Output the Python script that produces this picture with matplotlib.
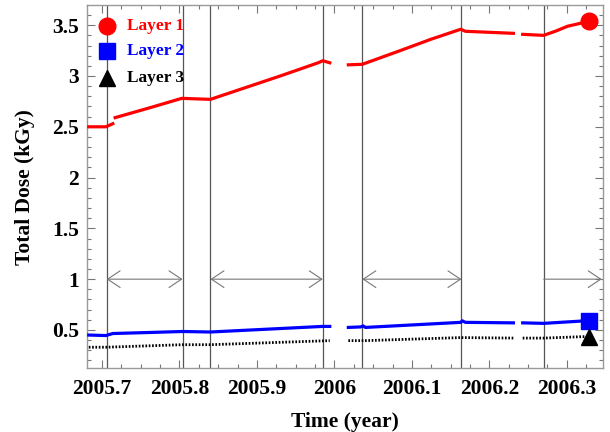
import numpy as np
import matplotlib
matplotlib.use('Agg')
import matplotlib.pyplot as plt
from matplotlib.ticker import MultipleLocator

plt.rcParams['font.family'] = ['Liberation Serif', 'DejaVu Serif']
plt.rcParams['font.weight'] = 'bold'

nan = np.nan

# Layer 1 (red)
t1 = [2005.683, 2005.705, 2005.714, nan, 2005.717, 2005.763, 2005.803, 2005.821, 2005.840,
      2005.930, 2005.979, 2005.985, 2005.994, nan, 2006.018, 2006.036, 2006.085, 2006.124,
      2006.163, 2006.169, 2006.231, nan, 2006.243, 2006.270, 2006.285, 2006.301, 2006.324]
d1 = [2.50, 2.50, 2.53, nan, 2.59, 2.69, 2.78, 2.775, 2.77,
      3.00, 3.13, 3.15, 3.13, nan, 3.11, 3.115, 3.25, 3.36,
      3.46, 3.44, 3.42, nan, 3.41, 3.40, 3.44, 3.49, 3.53]

# Layer 2 (blue)
t2 = [2005.683, 2005.705, 2005.714, 2005.760, 2005.804, 2005.840, 2005.985, 2005.994, nan,
      2006.018, 2006.034, 2006.037, 2006.040, 2006.163, 2006.165, 2006.169, 2006.231, nan,
      2006.243, 2006.270, 2006.324]
d2 = [0.45, 0.445, 0.465, 0.475, 0.485, 0.48, 0.535, 0.535, nan,
      0.525, 0.53, 0.54, 0.525, 0.575, 0.59, 0.575, 0.57, nan,
      0.57, 0.565, 0.59]

# Layer 3 (black)
t3 = [2005.683, 2005.705, 2005.804, 2005.840, 2005.994, nan, 2006.018, 2006.040,
      2006.163, 2006.231, nan, 2006.243, 2006.270, 2006.324]
d3 = [0.33, 0.33, 0.355, 0.355, 0.395, nan, 0.395, 0.395,
      0.425, 0.42, nan, 0.42, 0.42, 0.435]

# end markers
t_end = 2006.328
end_vals = [3.54, 0.59, 0.43]

# period boundaries and arrows
vlines = [2005.706, 2005.804, 2005.840, 2005.985, 2006.036, 2006.164, 2006.270]
arrows = [(2005.706, 2005.804, True), (2005.840, 2005.985, True),
          (2006.036, 2006.164, True), (2006.270, 2006.345, False)]

fig = plt.figure(figsize=(6.1, 4.32), dpi=100)
ax = fig.add_axes([0.143, 0.148, 0.846, 0.840])

for v in vlines:
    ax.axvline(v, color='#555555', lw=0.9, zorder=1)

for a, b, both in arrows:
    style = '<->' if both else '->'
    ax.annotate('', xy=(b, 1.0), xytext=(a, 1.0),
                arrowprops=dict(arrowstyle=style + ',head_length=0.45,head_width=0.3',
                                color='#777777', lw=0.8, shrinkA=0, shrinkB=0,
                                mutation_scale=20))

ax.plot(t1, d1, color='#ff0000', lw=2.3, zorder=3)
ax.plot(t2, d2, color='#0000ff', lw=2.3, zorder=3)
ax.plot(t3, d3, color='black', lw=2.0, ls=(0, (0.6, 0.6)), zorder=3)

ax.plot(t_end, end_vals[0], 'o', color='#ff0000', ms=12, zorder=4)
ax.plot(t_end, end_vals[1], 's', color='#0000ff', ms=11, zorder=4)
ax.plot(t_end, end_vals[2], '^', color='black', ms=11, zorder=4)

# legend drawn as markers + text
leg_x = 2005.707
for yv, mk, col, lab in [(3.49, 'o', '#ff0000', 'Layer 1'),
                          (3.245, 's', '#0000ff', 'Layer 2'),
                          (2.98, '^', 'black', 'Layer 3')]:
    ax.plot(leg_x, yv, mk, color=col, ms=12 if mk == 'o' else 11, zorder=4)
    ax.text(leg_x + 0.025, yv, lab, color=col, fontsize=12.5, fontweight='bold',
            va='center', ha='left')

ax.set_xlim(2005.681, 2006.347)
ax.set_ylim(0.125, 3.697)
ax.xaxis.set_major_locator(MultipleLocator(0.1))
ax.xaxis.set_minor_locator(MultipleLocator(0.025))
ax.yaxis.set_major_locator(MultipleLocator(0.5))
ax.yaxis.set_minor_locator(MultipleLocator(0.1))
ax.set_xticks([2005.7, 2005.8, 2005.9, 2006.0, 2006.1, 2006.2, 2006.3])
ax.set_xticklabels(['2005.7', '2005.8', '2005.9', '2006', '2006.1', '2006.2', '2006.3'])
ax.set_yticks([0.5, 1, 1.5, 2, 2.5, 3, 3.5])
ax.set_yticklabels(['0.5', '1', '1.5', '2', '2.5', '3', '3.5'])

ax.tick_params(which='both', direction='in', top=True, right=True, color='#777777',
               labelsize=15.5)
ax.tick_params(which='major', length=6, width=0.8)
ax.tick_params(which='minor', length=3, width=0.8)
ax.tick_params(axis='x', which='major', pad=8)
ax.tick_params(axis='y', which='major', pad=6)
for s in ax.spines.values():
    s.set_color('#999999')
    s.set_linewidth(1.0)

ax.set_xlabel('Time (year)', fontsize=15.5, fontweight='bold', labelpad=9)
ax.set_ylabel('Total Dose (kGy)', fontsize=15.5, fontweight='bold', labelpad=12)

fig.savefig('out.png', dpi=100)
